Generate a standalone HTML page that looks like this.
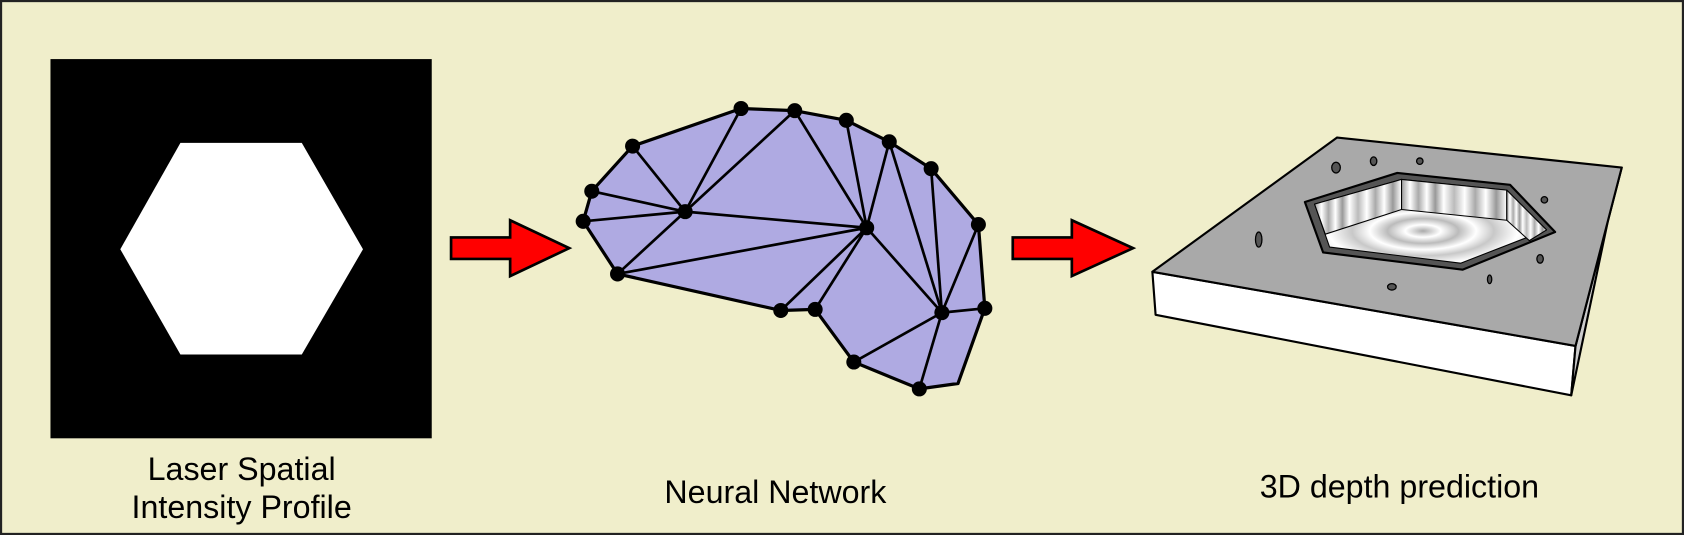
<!DOCTYPE html>
<html><head><style>html,body{margin:0;padding:0;background:#f0eecb;}svg{display:block}</style></head>
<body>
<svg width="1684" height="535" viewBox="0 0 1568 498" preserveAspectRatio="none" xmlns="http://www.w3.org/2000/svg">
<defs>
<radialGradient id="fl" cx="1325" cy="215" r="110" gradientUnits="userSpaceOnUse" gradientTransform="translate(1325 215) scale(1 0.35) translate(-1325 -215)">
<stop offset="0" stop-color="#aaa"/><stop offset="0.15" stop-color="#fff"/><stop offset="0.3" stop-color="#bbb"/><stop offset="0.45" stop-color="#fff"/><stop offset="0.6" stop-color="#c8c8c8"/><stop offset="0.8" stop-color="#fff"/><stop offset="1" stop-color="#ddd"/></radialGradient>
<linearGradient id="wl" x1="0" x2="1" y1="0" y2="0" spreadMethod="repeat">
<stop offset="0" stop-color="#999"/><stop offset="0.08" stop-color="#fff"/><stop offset="0.16" stop-color="#aaa"/><stop offset="0.24" stop-color="#fff"/><stop offset="0.32" stop-color="#999"/><stop offset="0.4" stop-color="#fff"/><stop offset="0.5" stop-color="#bbb"/><stop offset="0.6" stop-color="#fff"/><stop offset="0.7" stop-color="#aaa"/><stop offset="0.8" stop-color="#fff"/><stop offset="0.9" stop-color="#999"/><stop offset="1" stop-color="#fff"/></linearGradient>
</defs>
<rect x="1" y="1" width="1566" height="496" fill="#f0eecb" stroke="#222" stroke-width="2"/>
<rect x="47" y="55" width="355" height="353" fill="#000"/>
<polygon points="168,133 281,133 338,232 281,330 168,330 112,232" fill="#fff"/>
<g fill="#f00" stroke="#000" stroke-width="2.5" stroke-linejoin="miter">
<polygon points="420,221 475,221 475,205 530,231 475,257 475,241 420,241"/>
<polygon points="943,221 998,221 998,205 1055,231 998,257 998,241 943,241"/>
</g>
<polygon points="589,136 690,101 740,103 788,112 828,132 867,157 911,209 917,287 892,357 856,362 795,337 759,288 727,289 575,255 543,206 551,178" fill="#afaae2" stroke="#000" stroke-width="3" stroke-linejoin="round"/>
<g stroke="#000" stroke-width="2.5">
<line x1="589" y1="136" x2="638" y2="197"/><line x1="551" y1="178" x2="638" y2="197"/><line x1="543" y1="206" x2="638" y2="197"/><line x1="575" y1="255" x2="638" y2="197"/>
<line x1="690" y1="101" x2="638" y2="197"/><line x1="740" y1="103" x2="638" y2="197"/><line x1="638" y1="197" x2="807" y2="212"/><line x1="575" y1="255" x2="807" y2="212"/>
<line x1="740" y1="103" x2="807" y2="212"/><line x1="788" y1="112" x2="807" y2="212"/><line x1="828" y1="132" x2="807" y2="212"/><line x1="828" y1="132" x2="877" y2="291"/>
<line x1="867" y1="157" x2="877" y2="291"/><line x1="807" y1="212" x2="877" y2="291"/><line x1="807" y1="212" x2="759" y2="288"/><line x1="807" y1="212" x2="727" y2="289"/>
<line x1="877" y1="291" x2="795" y2="337"/><line x1="877" y1="291" x2="856" y2="362"/><line x1="877" y1="291" x2="917" y2="287"/><line x1="877" y1="291" x2="911" y2="209"/>
</g>
<g fill="#000">
<circle cx="690" cy="101" r="7"/><circle cx="740" cy="103" r="7"/><circle cx="788" cy="112" r="7"/><circle cx="828" cy="132" r="7"/><circle cx="867" cy="157" r="7"/><circle cx="911" cy="209" r="7"/><circle cx="917" cy="287" r="7"/><circle cx="877" cy="291" r="7"/><circle cx="856" cy="362" r="7"/><circle cx="795" cy="337" r="7"/><circle cx="759" cy="288" r="7"/><circle cx="727" cy="289" r="7"/><circle cx="575" cy="255" r="7"/><circle cx="543" cy="206" r="7"/><circle cx="551" cy="178" r="7"/><circle cx="589" cy="136" r="7"/><circle cx="638" cy="197" r="7"/><circle cx="807" cy="212" r="7"/>
</g>
<g stroke="#000" stroke-width="2" stroke-linejoin="round">
<polygon points="1073,253 1467,322 1463,368 1076,293" fill="#fff"/>
<polygon points="1510,156 1500,192 1463,368 1467,322" fill="#ccc"/>
<polygon points="1245,128 1510,156 1467,322 1073,253" fill="#a9a9a9"/>
<polygon points="1215,188 1301,161 1406,172 1448,216 1362,251 1232,235" fill="#555"/>
<polygon points="1224,190 1305,167 1403,177 1440,214 1360,245 1238,230" fill="url(#fl)" stroke-width="1"/>
<polygon points="1224,190 1305,167 1305,195 1234,218" fill="url(#wl)" stroke-width="1"/>
<polygon points="1305,167 1403,177 1403,205 1305,195" fill="url(#wl)" stroke-width="1"/>
<polygon points="1403,177 1440,214 1424,224 1403,205" fill="url(#wl)" stroke-width="1"/>
</g>
<g fill="#555" stroke="#000" stroke-width="1.2">
<ellipse cx="1244" cy="156" rx="4" ry="5"/><ellipse cx="1279" cy="150" rx="3" ry="4"/><ellipse cx="1322" cy="150" rx="3" ry="3"/><ellipse cx="1172" cy="223" rx="3" ry="7"/><ellipse cx="1296" cy="267" rx="4" ry="3"/><ellipse cx="1387" cy="260" rx="2" ry="4"/><ellipse cx="1434" cy="241" rx="3" ry="4"/><ellipse cx="1438" cy="186" rx="3" ry="3"/>
</g>
<g font-family="Liberation Sans, sans-serif" font-size="30" fill="#000" text-anchor="middle">
<text x="225" y="447">Laser Spatial</text>
<text x="225" y="482">Intensity Profile</text>
<text x="722" y="468">Neural Network</text>
<text x="1303" y="463">3D depth prediction</text>
</g>
</svg>
</body></html>
